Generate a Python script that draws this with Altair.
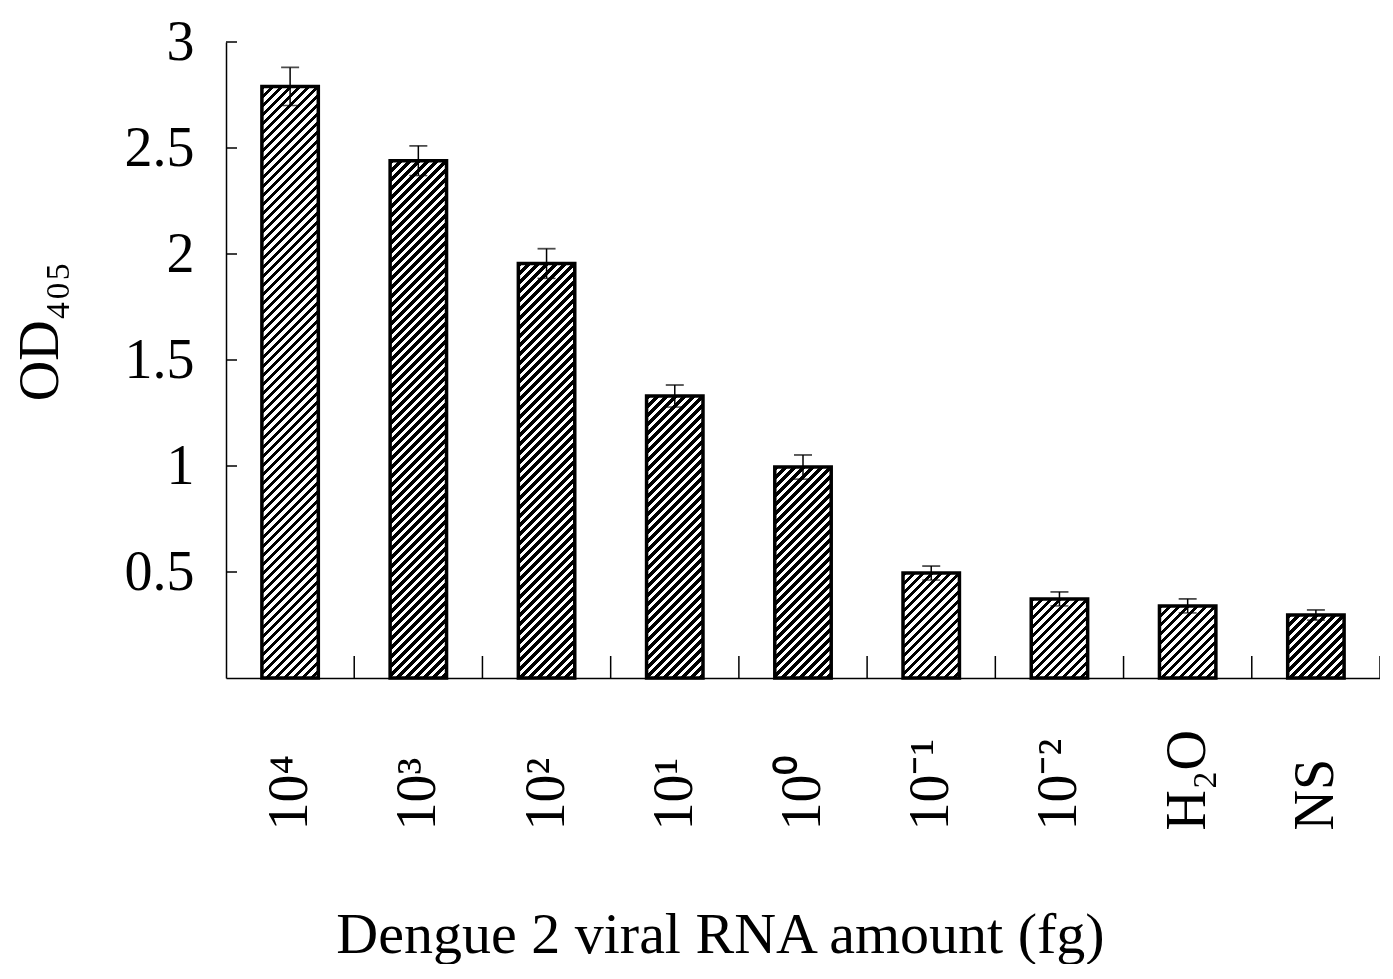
import math
import altair as alt
import pandas as pd

# ---- data ----
categories = ["10⁴", "10³", "10²", "10¹", "10⁰", "10⁻¹", "10⁻²", "H₂O", "NS"]
od_values = [2.79, 2.44, 1.955, 1.33, 0.995, 0.495, 0.373, 0.340, 0.297]
err_values = [0.09, 0.07, 0.07, 0.052, 0.057, 0.033, 0.033, 0.033, 0.024]
y_tick_values = [0.5, 1, 1.5, 2, 2.5, 3]

# ---- layout / style ----
W, H = 1154, 636
FONT = "Liberation Serif"
P_INNER, P_OUTER = 0.56, 0.28
STEP = W / (len(categories) - P_INNER + 2 * P_OUTER)
BW = (1 - P_INNER) * STEP
Y_MAX = 3.0

df = pd.DataFrame({"cat": categories, "od": od_values, "err": err_values})
df["lo"] = df["od"] - df["err"]
df["hi"] = df["od"] + df["err"]
ticks_df = pd.DataFrame({"t": y_tick_values})


def hatch(v, pitch=9.0, frac=0.5):
    """Diagonal '/' hatch as a linear gradient in bounding-box units."""
    w = BW
    h = v / Y_MAX * H
    total = w + h
    stops = []
    i = 0
    while i * pitch < total:
        a = i * pitch / total
        b = min((i + frac) * pitch / total, 1.0)
        c = min((i + 1) * pitch / total, 1.0)
        stops += [
            {"offset": a, "color": "black"},
            {"offset": b, "color": "black"},
            {"offset": b, "color": "white"},
            {"offset": c, "color": "white"},
        ]
        i += 1
    k = total / (w * w + h * h)
    return {"gradient": "linear", "x1": 0, "y1": 0, "x2": k * w, "y2": k * h,
            "stops": stops}


x_scale = alt.Scale(domain=categories, paddingInner=P_INNER, paddingOuter=P_OUTER)
y_scale = alt.Scale(domain=[0, Y_MAX], nice=False, zero=True)

x_axis = alt.Axis(
    title="Dengue 2 viral RNA amount (fg)",
    labelAngle=270, labelAlign="left", labelBaseline="middle",
    labelPadding=152, labelFontSize=56, labelFont=FONT, labelColor="black",
    labelOverlap=False, labelLimit=400,
    ticks=False, tickSize=0, grid=False,
    domainColor="black", domainWidth=1.5,
    titleFont=FONT, titleFontSize=58, titleFontWeight="normal", titleColor="black",
    titleX=494, titleY=274, titleAlign="center", titleBaseline="alphabetic",
)

y_axis = alt.Axis(
    title="OD₄₀₅",
    values=y_tick_values, format=".1~f",
    labelFont=FONT, labelFontSize=56, labelColor="black", labelPadding=32,
    ticks=False, tickSize=0, grid=False,
    domainColor="black", domainWidth=1.5,
    titleFont=FONT, titleFontSize=56, titleFontWeight="normal", titleColor="black",
    titleAngle=270, titleX=-186, titleY=289, titleAlign="center",
    titleBaseline="middle",
)

X = alt.X("cat:N", scale=x_scale, axis=x_axis)
base = alt.Chart(df)

layers = []
for c, v in zip(categories, od_values):
    layers.append(
        base.transform_filter(alt.datum.cat == c)
        .mark_bar(fill=hatch(v), stroke="black", strokeWidth=3.5)
        .encode(x=X, y=alt.Y("od:Q", scale=y_scale, axis=y_axis))
    )

err_rule = base.mark_rule(color="black", strokeWidth=1.5).encode(
    x=X, y=alt.Y("lo:Q", scale=y_scale, axis=y_axis), y2="hi:Q"
)
cap_hi = base.mark_tick(color="black", thickness=1.8, size=18).encode(
    x=X, y=alt.Y("hi:Q", scale=y_scale, axis=y_axis)
)
cap_lo = base.mark_tick(color="black", thickness=1.5, size=18).encode(
    x=X, y=alt.Y("lo:Q", scale=y_scale, axis=y_axis)
)
x_ticks = base.mark_rule(color="black", strokeWidth=1.5,
                         xOffset=(STEP - BW) / 2).encode(
    x=alt.X("cat:N", bandPosition=1, scale=x_scale, axis=x_axis),
    y=alt.value(H), y2=alt.value(H - 22),
)
y_ticks = alt.Chart(ticks_df).mark_rule(color="black", strokeWidth=1.5).encode(
    y=alt.Y("t:Q", scale=y_scale, axis=y_axis),
    x=alt.value(0), x2=alt.value(11),
)

chart = (
    alt.layer(*layers, err_rule, cap_hi, cap_lo, x_ticks, y_ticks)
    .properties(
        width=W, height=H,
        autosize=alt.AutoSizeParams(type="none"),
        padding={"left": 218, "top": 34, "right": 0, "bottom": 286},
        background="white",
    )
    .configure(font=FONT)
    .configure_view(stroke="transparent", strokeWidth=0)
)

chart.save("out.html", embed_options={"renderer": "svg", "actions": False})
